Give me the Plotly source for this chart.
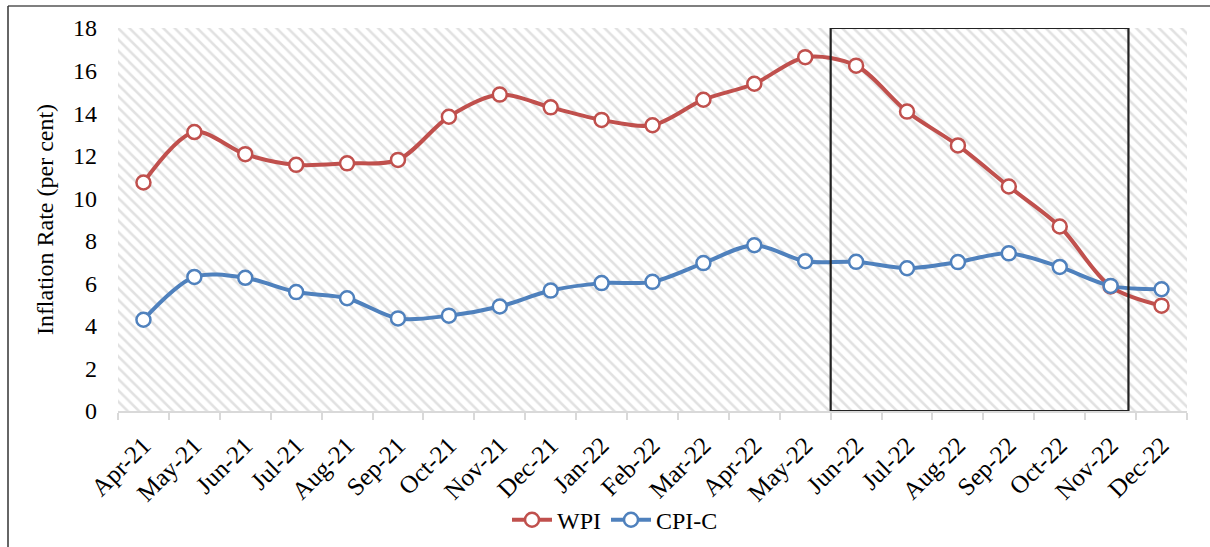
import plotly.graph_objects as go

months = ["Apr-21", "May-21", "Jun-21", "Jul-21", "Aug-21", "Sep-21", "Oct-21",
          "Nov-21", "Dec-21", "Jan-22", "Feb-22", "Mar-22", "Apr-22", "May-22",
          "Jun-22", "Jul-22", "Aug-22", "Sep-22", "Oct-22", "Nov-22", "Dec-22"]
wpi = [10.74, 13.11, 12.07, 11.57, 11.64, 11.80, 13.83, 14.87, 14.27, 13.68,
       13.43, 14.63, 15.38, 16.63, 16.23, 14.07, 12.48, 10.55, 8.67, 5.85, 4.95]
cpi_c = [4.29, 6.30, 6.26, 5.59, 5.30, 4.35, 4.48, 4.91, 5.66, 6.01,
         6.07, 6.95, 7.79, 7.04, 7.01, 6.71, 7.00, 7.41, 6.77, 5.88, 5.72]
y_ticks = [0, 2, 4, 6, 8, 10, 12, 14, 16, 18]

FONT = "Liberation Serif, Times New Roman, serif"
FS = 24
RED = "#C0504D"
BLUE = "#4F81BD"
GRID = "#d9d9d9"

xs = list(range(len(months)))
x_lo, x_hi = -0.5, len(months) - 0.5
y_lo, y_hi = y_ticks[0], y_ticks[-1]

fig = go.Figure()

# hatched plot-area background
fig.add_trace(go.Scatter(
    x=[x_lo, x_hi, x_hi, x_lo, x_lo], y=[y_lo, y_lo, y_hi, y_hi, y_lo],
    mode="lines", fill="toself", fillcolor="white",
    line=dict(width=0, color="rgba(0,0,0,0)"),
    fillpattern=dict(shape="\\", fgcolor="#c4c4c4", bgcolor="white",
                     size=8, solidity=0.32),
    hoverinfo="skip", showlegend=False))

fig.add_trace(go.Scatter(
    x=xs, y=wpi, name="WPI", mode="lines+markers",
    line=dict(color=RED, width=4, shape="spline", smoothing=0.9),
    marker=dict(symbol="circle", size=14, color="white",
                line=dict(color=RED, width=2.5))))
fig.add_trace(go.Scatter(
    x=xs, y=cpi_c, name="CPI-C", mode="lines+markers",
    line=dict(color=BLUE, width=4, shape="spline", smoothing=0.9),
    marker=dict(symbol="circle", size=14, color="white",
                line=dict(color=BLUE, width=2.5))))

# highlight box from Jun-22 to Nov-22
fig.add_shape(type="rect", xref="x", yref="y",
              x0=13.5, x1=19.35, y0=y_lo, y1=y_hi,
              line=dict(color="#222222", width=2.2), fillcolor="rgba(0,0,0,0)",
              layer="above")

# outer frame (top and left edges visible)
L, W, T, H = 118, 1069, 28, 383
px = lambda p: (p - L) / W
py = lambda p: 1 + (T - p) / H
fig.add_shape(type="line", xref="paper", yref="paper",
              x0=px(8), x1=px(1215), y0=py(6), y1=py(6),
              line=dict(color="#7f7f7f", width=2))
fig.add_shape(type="line", xref="paper", yref="paper",
              x0=px(8), x1=px(8), y0=py(6), y1=py(560),
              line=dict(color="#333333", width=1.5))

fig.update_layout(
    width=1210, height=547,
    margin=dict(l=L, r=1210 - L - W, t=T, b=547 - T - H, autoexpand=False),
    paper_bgcolor="white", plot_bgcolor="white",
    font=dict(family=FONT, size=FS, color="black"),
    showlegend=True,
    legend=dict(orientation="h", x=px(615), xanchor="center", y=-0.285,
                yanchor="middle", font=dict(family=FONT, size=FS),
                bgcolor="rgba(0,0,0,0)", itemwidth=40, tracegroupgap=0),
    xaxis=dict(
        range=[x_lo, x_hi], tickmode="array", tickvals=xs, ticktext=months,
        tickangle=-45, ticks="", showgrid=False, zeroline=False, automargin=False,
        showline=True, linecolor=GRID, linewidth=1.5, ticklabelstandoff=8,
        tickfont=dict(family=FONT, size=25),
        minor=dict(tickmode="array", tickvals=[i - 0.5 for i in range(len(months) + 1)],
                   ticks="outside", ticklen=7, tickcolor=GRID, tickwidth=1.5,
                   showgrid=False)),
    yaxis=dict(
        range=[y_lo, y_hi], tickmode="array", tickvals=y_ticks, automargin=False,
        showgrid=True, gridcolor=GRID, gridwidth=1.5, zeroline=False,
        showline=False, ticks="", ticklabelstandoff=20,
        tickfont=dict(family=FONT, size=FS),
        title=dict(text="Inflation Rate (per cent)", standoff=12,
                   font=dict(family=FONT, size=FS))),
)

fig.write_html("out.html", config={"displayModeBar": False},
               post_script="document.body.style.margin='0px';document.body.style.overflow='hidden';")
